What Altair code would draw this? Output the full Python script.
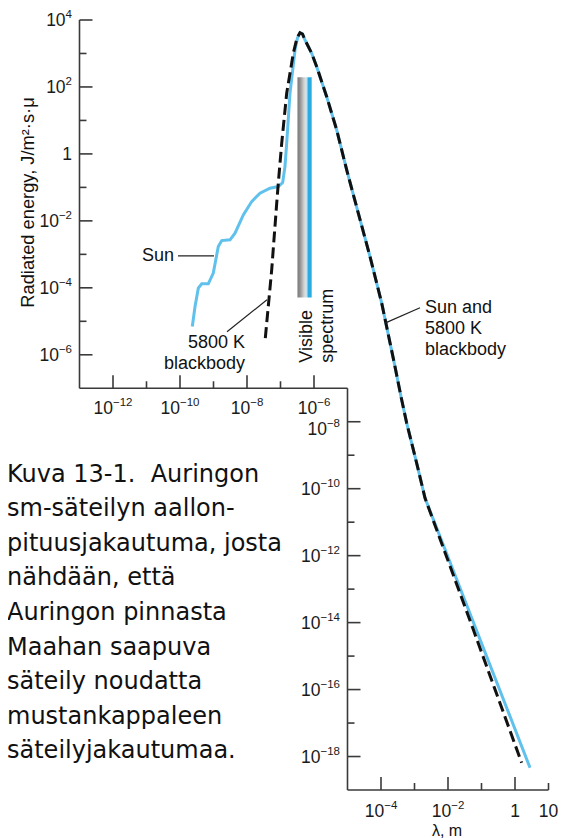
import altair as alt
import pandas as pd

FONT = "Liberation Sans, Arial, Helvetica, sans-serif"
CAPFONT = "DejaVu Sans, sans-serif"
AXC = "#3a3a3a"
BLUE = "#5fc1ec"
TXT = "#1a1a1a"

# ---------------- data ----------------
sun_wavelength = [2.33e-10, 2.81e-10, 3.52e-10, 4.45e-10, 7.0e-10, 9.86e-10, 1.39e-9, 1.76e-9,
                  3.11e-9, 4.39e-9, 7.76e-9, 1.38e-8, 2.44e-8, 4.86e-8, 8.59e-8, 1.16e-7,
                  1.36e-7, 1.53e-7, 1.92e-7, 2.71e-7, 3.22e-7, 3.82e-7, 4.54e-7, 5.38e-7,
                  8.53e-7, 1.205e-6, 2.39e-6, 4.76e-6, 9.46e-6, 2.10e-5, 4.70e-5, 1.05e-4,
                  2.49e-4, 3.95e-4, 5.85e-4, 1.16e-3, 2.06e-3, 2.81]
sun_energy = [7.0e-6, 2.77e-5, 9.8e-5, 1.32e-4, 1.32e-4, 2.75e-4, 1.71e-3, 2.58e-3,
              2.71e-3, 4.3e-3, 0.0151, 0.0377, 0.0671, 0.0946, 0.106, 0.139,
              0.418, 2.08, 64.9, 1270, 2900, 4180, 3820, 2530,
              1014, 404, 51.3, 5.2, 0.333, 0.017, 8.6e-4, 3.49e-5,
              5.65e-7, 5.69e-8, 9.1e-9, 5.85e-10, 5.27e-11, 4.6e-19]

bb_wavelength = [3.52e-8, 5.46e-8, 7.71e-8, 8.59e-8, 1.086e-7, 1.53e-7, 2.41e-7, 3.11e-7,
                 3.82e-7, 4.54e-7, 5.38e-7, 8.53e-7, 1.205e-6, 2.39e-6, 4.76e-6, 9.46e-6,
                 2.10e-5, 4.70e-5, 1.05e-4, 2.49e-4, 3.95e-4, 5.85e-4, 1.16e-3, 2.06e-3,
                 1.02e-2, 5.69e-2, 1.58]
bb_energy = [3.15e-6, 3.44e-4, 0.0337, 0.133, 2.08, 64.9, 1014, 2900,
             4180, 3820, 2530, 1014, 404, 51.3, 5.2, 0.333,
             0.017, 8.6e-4, 3.49e-5, 5.65e-7, 5.69e-8, 9.1e-9, 5.85e-10, 5.27e-11,
             6.76e-13, 6.18e-15, 6.49e-19]

visible_wavelength = [3.21e-7, 8.53e-7]
visible_energy = [5.13e-5, 195]

# axis frame: upper-left pair and lower-right pair
frame_x = [1e-13, 1e-13, 1e-5, 1e-5]
frame_x2 = [1e-13, 1e-5, 1e-5, 10]
frame_y = [1e-7, 1e-7, 1e-19, 1e-19]
frame_y2 = [1e4, 1e-7, 1e-7, 1e-19]

upper_y_major = [1e4, 1e2, 1, 1e-2, 1e-4, 1e-6]
upper_y_base = ["10", "10", "1", "10", "10", "10"]
upper_y_exp = ["4", "2", "", "−2", "−4", "−6"]
upper_y_minor = [1e3, 1e1, 1e-1, 1e-3, 1e-5]

upper_x_major = [1e-12, 1e-10, 1e-8, 1e-6]
upper_x_base = ["10", "10", "10", "10"]
upper_x_exp = ["−12", "−10", "−8", "−6"]
upper_x_minor = [1e-11, 1e-9, 1e-7]

lower_y_major = [1e-8, 1e-10, 1e-12, 1e-14, 1e-16, 1e-18]
lower_y_base = ["10", "10", "10", "10", "10", "10"]
lower_y_exp = ["−8", "−10", "−12", "−14", "−16", "−18"]
lower_y_minor = [1e-9, 1e-11, 1e-13, 1e-15, 1e-17]

lower_x_major = [1e-4, 1e-2, 1]
lower_x_minor = [1e-3, 1e-1, 10]
lower_x_label_values = [1e-4, 1e-2, 1, 10]
lower_x_base = ["10", "10", "1", "10"]
lower_x_exp = ["−4", "−2", "", ""]

# annotations (anchor points in data units)
leader_x = [8.7e-11, 2.53e-9, 1.315e-4]
leader_x2 = [1.035e-9, 3.95e-8, 1.46e-3]
leader_y = [9.0e-4, 4.87e-6, 8.8e-6]
leader_y2 = [9.0e-4, 4.39e-5, 2.53e-5]

caption_lines = ["Kuva 13-1.\u00a0 Auringon", "sm-säteilyn aallon-", "pituusjakautuma, josta",
                 "nähdään, että", "Auringon pinnasta", "Maahan saapuva",
                 "säteily noudatta", "mustankappaleen", "säteilyjakautumaa."]

# ---------------- scales ----------------
xs = alt.Scale(type="log", domain=[1e-13, 10], nice=False)
ys = alt.Scale(type="log", domain=[1e-19, 1e4], nice=False)


def X(f):
    return alt.X(f, type="quantitative", scale=xs, axis=None)


def Y(f):
    return alt.Y(f, type="quantitative", scale=ys, axis=None)


sun_df = pd.DataFrame({"wl": sun_wavelength, "e": sun_energy, "i": range(len(sun_wavelength))})
bb_df = pd.DataFrame({"wl": bb_wavelength, "e": bb_energy, "i": range(len(bb_wavelength))})

sun_line = alt.Chart(sun_df).mark_line(color=BLUE, strokeWidth=3).encode(
    x=X("wl"), y=Y("e"), order="i:Q")
bb_line = alt.Chart(bb_df).mark_line(color="#111111", strokeWidth=3, strokeDash=[11, 5]).encode(
    x=X("wl"), y=Y("e"), order="i:Q")

grad = alt.LinearGradient(
    gradient="linear", x1=0, x2=1, y1=0, y2=0,
    stops=[alt.GradientStop(color="#7a7a7a", offset=0),
           alt.GradientStop(color="#909090", offset=0.18),
           alt.GradientStop(color="#c8c8c8", offset=0.42),
           alt.GradientStop(color="#dedede", offset=0.55),
           alt.GradientStop(color="#b9e1f4", offset=0.66),
           alt.GradientStop(color="#29abe2", offset=0.76),
           alt.GradientStop(color="#29abe2", offset=1)])
vis_df = pd.DataFrame({"x1": [visible_wavelength[0]], "x2": [visible_wavelength[1]],
                       "y1": [visible_energy[0]], "y2": [visible_energy[1]]})
vis_bar = alt.Chart(vis_df).mark_rect(fill=grad).encode(
    x=X("x1"), x2="x2", y=Y("y1"), y2="y2")

frame_df = pd.DataFrame({"x1": frame_x, "x2": frame_x2, "y1": frame_y, "y2": frame_y2})
frame = alt.Chart(frame_df).mark_rule(color=AXC, strokeWidth=1.6).encode(
    x=X("x1"), x2="x2", y=Y("y1"), y2="y2")


def yticks(values, pos, length):
    df = pd.DataFrame({"v": values, "p": [pos] * len(values)})
    return alt.Chart(df).mark_rule(color=AXC, strokeWidth=1.6, x2Offset=length).encode(
        x=X("p"), x2="p", y=Y("v"))


def xticks(values, pos, length):
    df = pd.DataFrame({"v": values, "p": [pos] * len(values)})
    return alt.Chart(df).mark_rule(color=AXC, strokeWidth=1.6, y2Offset=-length).encode(
        y=Y("p"), y2="p", x=X("v"))


BASE_SIZE = 17.5
EXP_SIZE = 11.5
EXP_RAISE = 8


def text_width(s, size):
    return size * sum(0.584 if c == "−" else 0.556 for c in s)


def tick_labels(values, bases, exps, pos, side, extra_dy=0.0):
    """Labels like 10^n built from a base text and a smaller raised exponent."""
    groups = {}
    for v, b, e in zip(values, bases, exps):
        key = (b, round(text_width(e, EXP_SIZE), 2))
        groups.setdefault(key, []).append((v, b, e))
    layers = []
    wb_full = text_width("10", BASE_SIZE)
    for (b, we), rows in groups.items():
        df = pd.DataFrame({"v": [r[0] for r in rows], "b": [r[1] for r in rows],
                           "e": [r[2] for r in rows], "p": [pos] * len(rows)})
        if side == "y":
            gap = 7.5
            base_dy = 6.3 + extra_dy
            enc = dict(x=X("p"), y=Y("v"))
            base_mark = dict(align="right", dx=-(gap + we))
            exp_mark = dict(align="right", dx=-gap)
        else:
            base_dy = 26 + extra_dy
            enc = dict(x=X("v"), y=Y("p"))
            if we > 0:
                shift = (wb_full - we) / 2
                base_mark = dict(align="right", dx=shift)
                exp_mark = dict(align="left", dx=shift)
            else:
                base_mark = dict(align="center", dx=0)
                exp_mark = None
        layers.append(alt.Chart(df).mark_text(
            baseline="alphabetic", dy=base_dy, font=FONT, fontSize=BASE_SIZE, color=TXT,
            **base_mark).encode(text="b:N", **enc))
        if we > 0 and exp_mark is not None:
            layers.append(alt.Chart(df).mark_text(
                baseline="alphabetic", dy=base_dy - EXP_RAISE, font=FONT, fontSize=EXP_SIZE,
                color=TXT, **exp_mark).encode(text="e:N", **enc))
    return layers


ticks = [
    yticks(upper_y_major, 1e-13, 13), yticks(upper_y_minor, 1e-13, 7),
    xticks(upper_x_major, 1e-7, 13), xticks(upper_x_minor, 1e-7, 7),
    yticks(lower_y_major, 1e-5, 13), yticks(lower_y_minor, 1e-5, 7),
    xticks(lower_x_major, 1e-19, 13), xticks(lower_x_minor, 1e-19, 7),
]
labels = (
    tick_labels(upper_y_major, upper_y_base, upper_y_exp, 1e-13, "y")
    + tick_labels(upper_x_major, upper_x_base, upper_x_exp, 1e-7, "x", -0.5)
    + tick_labels(lower_y_major[:1], lower_y_base[:1], lower_y_exp[:1], 1e-5, "y", 7)
    + tick_labels(lower_y_major[1:], lower_y_base[1:], lower_y_exp[1:], 1e-5, "y")
    + tick_labels(lower_x_label_values, lower_x_base, lower_x_exp, 1e-19, "x", 0.5)
)

leader_df = pd.DataFrame({"x1": leader_x, "x2": leader_x2, "y1": leader_y, "y2": leader_y2})
leaders = alt.Chart(leader_df).mark_rule(color="#222222", strokeWidth=1.2).encode(
    x=X("x1"), x2="x2", y=Y("y1"), y2="y2")


def note(text, wl, e, align, **kw):
    df = pd.DataFrame({"t": [text], "wl": [wl], "e": [e]})
    return alt.Chart(df).mark_text(align=align, baseline="alphabetic", font=FONT, fontSize=18,
                                   lineBreak="\n", lineHeight=21, color="#111111", **kw).encode(
        x=X("wl"), y=Y("e"), text="t:N")


notes = [
    note("Sun", 6.62e-11, 6.4e-4, "right"),
    note("5800 K\nblackbody", 8.71e-9, 1.62e-6, "right"),
    note("Sun and\n5800 K\nblackbody", 2.06e-3, 1.79e-5, "left"),
    note("Visible\nspectrum", 8.71e-7, 5.77e-7, "left", angle=270),
]

ytitle = alt.Chart(pd.DataFrame({"t": ["Radiated energy, J/m²·s·μ"]})).mark_text(
    angle=270, align="center", baseline="alphabetic", font=FONT, fontSize=18.3, color="#111111"
).encode(x=alt.value(-46), y=alt.value(182.5), text="t:N")

xtitle = alt.Chart(pd.DataFrame({"t": ["λ, m"]})).mark_text(
    align="center", baseline="alphabetic", font=FONT, fontSize=16, color="#111111"
).encode(x=alt.value(367.5), y=alt.value(816), text="t:N")

caption = alt.Chart(pd.DataFrame({"t": ["\n".join(caption_lines)]})).mark_text(
    align="left", baseline="alphabetic", font=CAPFONT, fontSize=24, lineBreak="\n",
    lineHeight=34.6, color="#111111"
).encode(x=alt.value(-72.5), y=alt.value(461.5), text="t:N")

chart = alt.layer(
    vis_bar, sun_line, bb_line, frame, *ticks, *labels, leaders, *notes,
    ytitle, xtitle, caption
).properties(
    width=469, height=770,
    padding={"left": 71.5, "top": 12, "right": 10, "bottom": 48},
    autosize=alt.AutoSizeParams(type="none"),
).configure_view(strokeWidth=0)

chart.save("out.html", embed_options={"renderer": "svg", "actions": False})
